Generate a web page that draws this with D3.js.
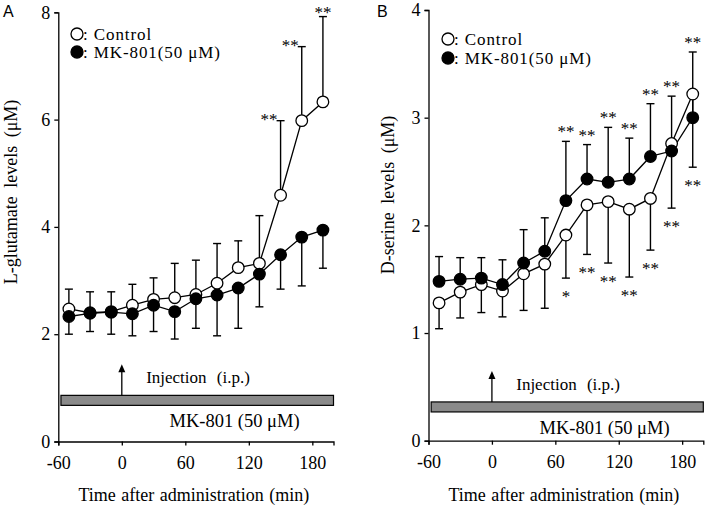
<!DOCTYPE html>
<html><head><meta charset="utf-8">
<script src="https://cdn.jsdelivr.net/npm/d3@7"></script>
<style>
body{margin:0;background:#fff;}
svg{display:block;}
text{font-family:"Liberation Serif","Times New Roman",serif;fill:#000;}
</style></head>
<body>
<svg id="chart" width="709" height="505"></svg>
<script>
// ---------- DATA ----------
const times = [-50,-30,-10,10,30,50,70,90,110,130,150,170,190];

// Panel A: L-glutamate (µM)
const ctrlA    = [2.47,2.40,2.42,2.54,2.65,2.68,2.74,2.95,3.24,3.32,4.59,5.98,6.33];
const ctrlA_sd = [0.37,0.39,0.37,0.39,0.40,0.64,0.64,0.74,0.50,0.89,1.39,1.38,1.59];
const mkA      = [2.33,2.39,2.41,2.38,2.54,2.42,2.66,2.73,2.86,3.12,3.48,3.81,3.94];
const mkA_sd   = [0.33,0.34,0.41,0.41,0.49,0.51,0.55,0.76,0.75,0.61,0.64,0.91,0.71];
const starsA   = [{t:150,side:"up",txt:"**",anchor:"end"},{t:170,side:"up",txt:"**",anchor:"end"},{t:190,side:"up",txt:"**",anchor:"middle"}];

// Panel B: D-serine (µM)
const ctrlB    = [1.28,1.38,1.45,1.39,1.55,1.64,1.91,2.19,2.22,2.15,2.25,2.76,3.22];
const ctrlB_sd = [0.24,0.24,0.26,0.24,0.34,0.41,0.40,0.46,0.57,0.63,0.48,0.60,0.68];
const mkB      = [1.48,1.50,1.51,1.45,1.65,1.76,2.23,2.43,2.40,2.43,2.64,2.69,3.00];
const mkB_sd   = [0.23,0.20,0.19,0.23,0.31,0.31,0.55,0.32,0.51,0.38,0.49,0.51,0.61];
const starsB   = [
  {t:70,side:"up",txt:"**"},{t:90,side:"up",txt:"**"},{t:110,side:"up",txt:"**"},{t:130,side:"up",txt:"**"},
  {t:150,side:"up",txt:"**"},{t:170,side:"up",txt:"**"},{t:190,side:"up",txt:"**"},
  {t:70,side:"down",txt:"*"},{t:90,side:"down",txt:"**"},{t:110,side:"down",txt:"**"},{t:130,side:"down",txt:"**"},
  {t:150,side:"down",txt:"**"},{t:170,side:"down",txt:"**"},{t:190,side:"down",txt:"**"}
];

const xTicks = [-60,0,60,120,180];
const yTicksA = [0,2,4,6,8];
const yTicksB = [0,1,2,3,4];
const legendLabels = [": Control", ": MK-801(50 \u03BCM)"];
const injLabel = "Injection (i.p.)";
const drugLabel = "MK-801 (50 \u03BCM)";
const xTitle = "Time after administration (min)";

// ---------- DRAW ----------
const svg = d3.select("#chart");
const SERIF = '"Liberation Serif","Times New Roman",serif';

function panel(cfg){
  const g = svg.append("g");
  const x = d3.scaleLinear().domain([-60,200]).range([cfg.x0, cfg.x1]);
  const y = d3.scaleLinear().domain([0, cfg.ymax]).range([cfg.y0, cfg.y1]);

  // axes
  const xa = g.append("g").attr("transform",`translate(0,${cfg.y0})`)
    .call(d3.axisBottom(x).tickValues(xTicks).tickSize(4).tickPadding(5).tickFormat(d=>String(d)));
  const ya = g.append("g").attr("transform",`translate(${cfg.x0},0)`)
    .call(d3.axisLeft(y).tickValues(cfg.yTicks).tickSize(4).tickPadding(4).tickFormat(d=>String(d)));
  [xa,ya].forEach(a=>{
    a.attr("font-family",SERIF);
    a.select(".domain").attr("stroke","#000").attr("stroke-width",1.3);
    a.selectAll(".tick line").attr("stroke","#000").attr("stroke-width",1.3);
    a.selectAll("text").style("font-family",SERIF).style("font-size","18px").attr("fill","#000");
  });
  xa.selectAll("text").attr("dy","1em");

  // axis titles
  g.append("text").attr("x",(cfg.x0+cfg.x1)/2 - 2).attr("y",501)
    .attr("text-anchor","middle").style("font-size","18px").style("word-spacing","1px").text(xTitle);
  g.append("text").attr("transform",`translate(${cfg.ytx},${cfg.yty}) rotate(-90)`)
    .attr("text-anchor","middle").style("font-size","18px").style("word-spacing","4px").text(cfg.yTitle);

  // panel label
  g.append("text").attr("x",cfg.labx).attr("y",17).style("font-family",'"Liberation Sans",Arial,sans-serif')
    .style("font-size","16px").text(cfg.label);

  // drug bar
  const barTop = y(cfg.barY);
  g.append("rect").attr("x",x(-57.5)).attr("y",barTop).attr("width",x(200)-x(-57.5)).attr("height",10)
    .attr("fill","#8a8a8a").attr("stroke","#000").attr("stroke-width",1.2);
  g.append("text").attr("x",x(45)).attr("y",barTop+32).style("font-size","18.5px").text(drugLabel);
  // injection arrow
  g.append("line").attr("x1",x(0)).attr("x2",x(0)).attr("y1",barTop).attr("y2",barTop-24)
    .attr("stroke","#000").attr("stroke-width",1.3);
  g.append("path").attr("d",`M${x(0)-3.5},${barTop-23} L${x(0)+3.5},${barTop-23} L${x(0)},${barTop-31} Z`).attr("fill","#000");
  g.append("text").attr("x",x(23)).attr("y",barTop-12).style("font-size","17px").style("word-spacing","6px").text(injLabel);

  // error bars
  const cap = 4;
  function errs(vals, sds, dir){
    const eg = g.append("g").attr("stroke","#000").attr("stroke-width",1.4);
    times.forEach((t,i)=>{
      const yv = y(vals[i] + dir*sds[i]);
      eg.append("line").attr("x1",x(t)).attr("x2",x(t)).attr("y1",y(vals[i])).attr("y2",yv);
      eg.append("line").attr("x1",x(t)-cap).attr("x2",x(t)+cap).attr("y1",yv).attr("y2",yv);
    });
  }
  errs(cfg.ctrl, cfg.ctrlSd, cfg.ctrlDir);
  errs(cfg.mk, cfg.mkSd, -cfg.ctrlDir);

  const line = d3.line().x((d,i)=>x(times[i])).y(d=>y(d));
  g.append("path").datum(cfg.ctrl).attr("d",line).attr("fill","none").attr("stroke","#000").attr("stroke-width",1.3);
  g.append("path").datum(cfg.mk).attr("d",line).attr("fill","none").attr("stroke","#000").attr("stroke-width",1.3);

  g.append("g").selectAll("circle").data(cfg.ctrl).join("circle")
    .attr("cx",(d,i)=>x(times[i])).attr("cy",d=>y(d)).attr("r",5.8)
    .attr("fill","#fff").attr("stroke","#000").attr("stroke-width",1.3);
  g.append("g").selectAll("circle").data(cfg.mk).join("circle")
    .attr("cx",(d,i)=>x(times[i])).attr("cy",d=>y(d)).attr("r",5.8)
    .attr("fill","#000").attr("stroke","#000").attr("stroke-width",1.3);

  // significance stars
  cfg.stars.forEach(s=>{
    const i = times.indexOf(s.t);
    const anchor = s.anchor || "middle";
    let yy;
    if (s.side === "up") {
      const up = cfg.ctrlDir>0 ? cfg.ctrl[i]+cfg.ctrlSd[i] : cfg.mk[i]+cfg.mkSd[i];
      yy = anchor==="end" ? y(up) + 4 : y(up) + (cfg.ctrlDir>0 ? 1.5 : -4);
    } else {
      const dn = cfg.ctrlDir>0 ? cfg.mk[i]-cfg.mkSd[i] : cfg.ctrl[i]-cfg.ctrlSd[i];
      yy = y(dn) + 24;
    }
    g.append("text").attr("x", x(s.t) + (anchor==="end"? -3 : 0)).attr("y",yy)
      .attr("text-anchor",anchor).style("font-size","17px").text(s.txt);
  });

  // legend
  [0,1].forEach(k=>{
    g.append("circle").attr("cx",cfg.legx).attr("cy",cfg.legy+k*cfg.legdy).attr("r",6)
      .attr("fill",k?"#000":"#fff").attr("stroke","#000").attr("stroke-width",1.3);
    g.append("text").attr("x",cfg.legx+6).attr("y",cfg.legy+k*cfg.legdy+6).style("font-size","17px")
      .style("letter-spacing","0.9px").text(legendLabels[k]);
  });
}

panel({x0:58.3,x1:333.5,y0:441.5,y1:12.3,ymax:8,yTicks:yTicksA,
  ctrl:ctrlA,ctrlSd:ctrlA_sd,mk:mkA,mkSd:mkA_sd,ctrlDir:1,stars:starsA,
  yTitle:"L-glutamate levels (\u03BCM)",ytx:16.5,yty:192,label:"A",labx:3,
  barY:0.86,legx:77,legy:34,legdy:18});
panel({x0:428.5,x1:703.3,y0:440.7,y1:10,ymax:4,yTicks:yTicksB,
  ctrl:ctrlB,ctrlSd:ctrlB_sd,mk:mkB,mkSd:mkB_sd,ctrlDir:-1,stars:starsB,
  yTitle:"D-serine levels (\u03BCM)",ytx:394,yty:195,label:"B",labx:377,
  barY:0.36,legx:448,legy:39,legdy:19});
</script>
</body></html>
